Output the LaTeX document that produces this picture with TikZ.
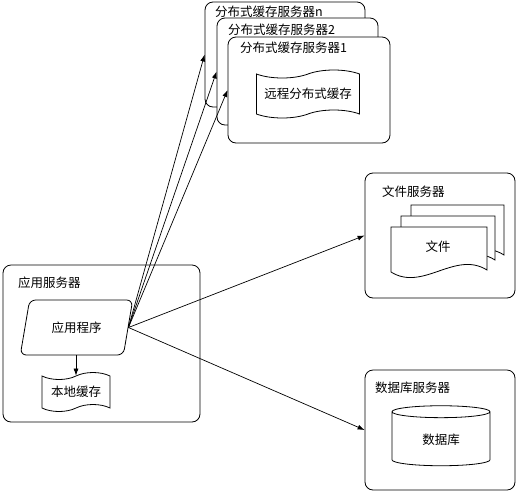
\documentclass[tikz,border=0pt]{standalone}
\usepackage{fontspec}
\setmainfont{Noto Sans CJK SC}
\usetikzlibrary{shapes.geometric,shapes.symbols,arrows.meta}
\tikzset{
  box/.style={draw, rounded corners=8pt, fill=white, line width=0.8pt},
  title/.style={anchor=west, inner sep=0pt},
  page/.style={draw, fill=white, line width=0.8pt},
  link/.style={-{Latex[length=7pt,width=5pt]}, line width=0.7pt},
}
\begin{document}
\begin{tikzpicture}[x=1pt, y=-1pt, font=\fontsize{12.5}{14}\selectfont]
    \useasboundingbox (0,0) rectangle (517,491);
    % distributed cache servers
    \node[box, minimum width=160, minimum height=105] (srvn) at (285,54.5) {};
    \node[title] (srvnlabel) at (215,12) {分布式缓存服务器n};
    \node[box, minimum width=161, minimum height=107] (srv2) at (297.5,71.5) {};
    \node[title] (srv2label) at (228,30) {分布式缓存服务器2};
    \node[box, minimum width=162, minimum height=106] (srv1) at (309,90) {};
    \node[title] (srv1label) at (240,48) {分布式缓存服务器1};
    \node[draw, shape=tape, line width=0.8pt, minimum width=103, minimum height=48, tape bend height=8] (remote) at (308,94) {远程分布式缓存};
    % application server
    \node[box, minimum width=197, minimum height=157] (appsrv) at (101.5,343.5) {};
    \node[title] (appsrvlabel) at (18,283) {应用服务器};
    \node[draw, shape=trapezium, trapezium left angle=67, trapezium right angle=113, trapezium stretches=true, rounded corners=6pt, line width=0.8pt, minimum width=113, minimum height=55, inner sep=0pt] (prog) at (76.5,327.5) {应用程序};
    \node[draw, shape=tape, line width=0.8pt, minimum width=68, minimum height=39, tape bend height=7] (local) at (76,392) {本地缓存};
    % file server
    \node[box, minimum width=150, minimum height=125] (filesrv) at (440,235.5) {};
    \node[title] (filesrvlabel) at (382,192) {文件服务器};
    \draw[page] (411,205) -- (504,205) -- (504,255) .. controls (473,235) and (442,277) .. (411,257) -- cycle;
    \draw[page] (401,216) -- (495,216) -- (495,260) .. controls (464,240) and (432,282) .. (401,262) -- cycle;
    \draw[page] (391,227) -- (487,227) -- (487,270) .. controls (455,250) and (423,292) .. (391,272) -- cycle;
    \node (file) at (438,247) {文件};
    % database server
    \node[box, minimum width=150, minimum height=120] (dbsrv) at (440,430) {};
    \node[title] (dbsrvlabel) at (375,388) {数据库服务器};
    \node[draw, shape=cylinder, shape border rotate=90, aspect=0.27, line width=0.8pt, minimum width=98, minimum height=60] (db) at (441,440) {数据库};
    % connectors
    \path[link] (prog.east) edge (srvn.west);
    \path[link] (prog.east) edge (srv2.west);
    \path[link] (prog.east) edge (srv1.west);
    \path[link] (prog.east) edge (filesrv.west);
    \path[link] (prog.east) edge (dbsrv.west);
    \path[link] (local.north |- prog.south) edge (local.north);
\end{tikzpicture}
\end{document}
